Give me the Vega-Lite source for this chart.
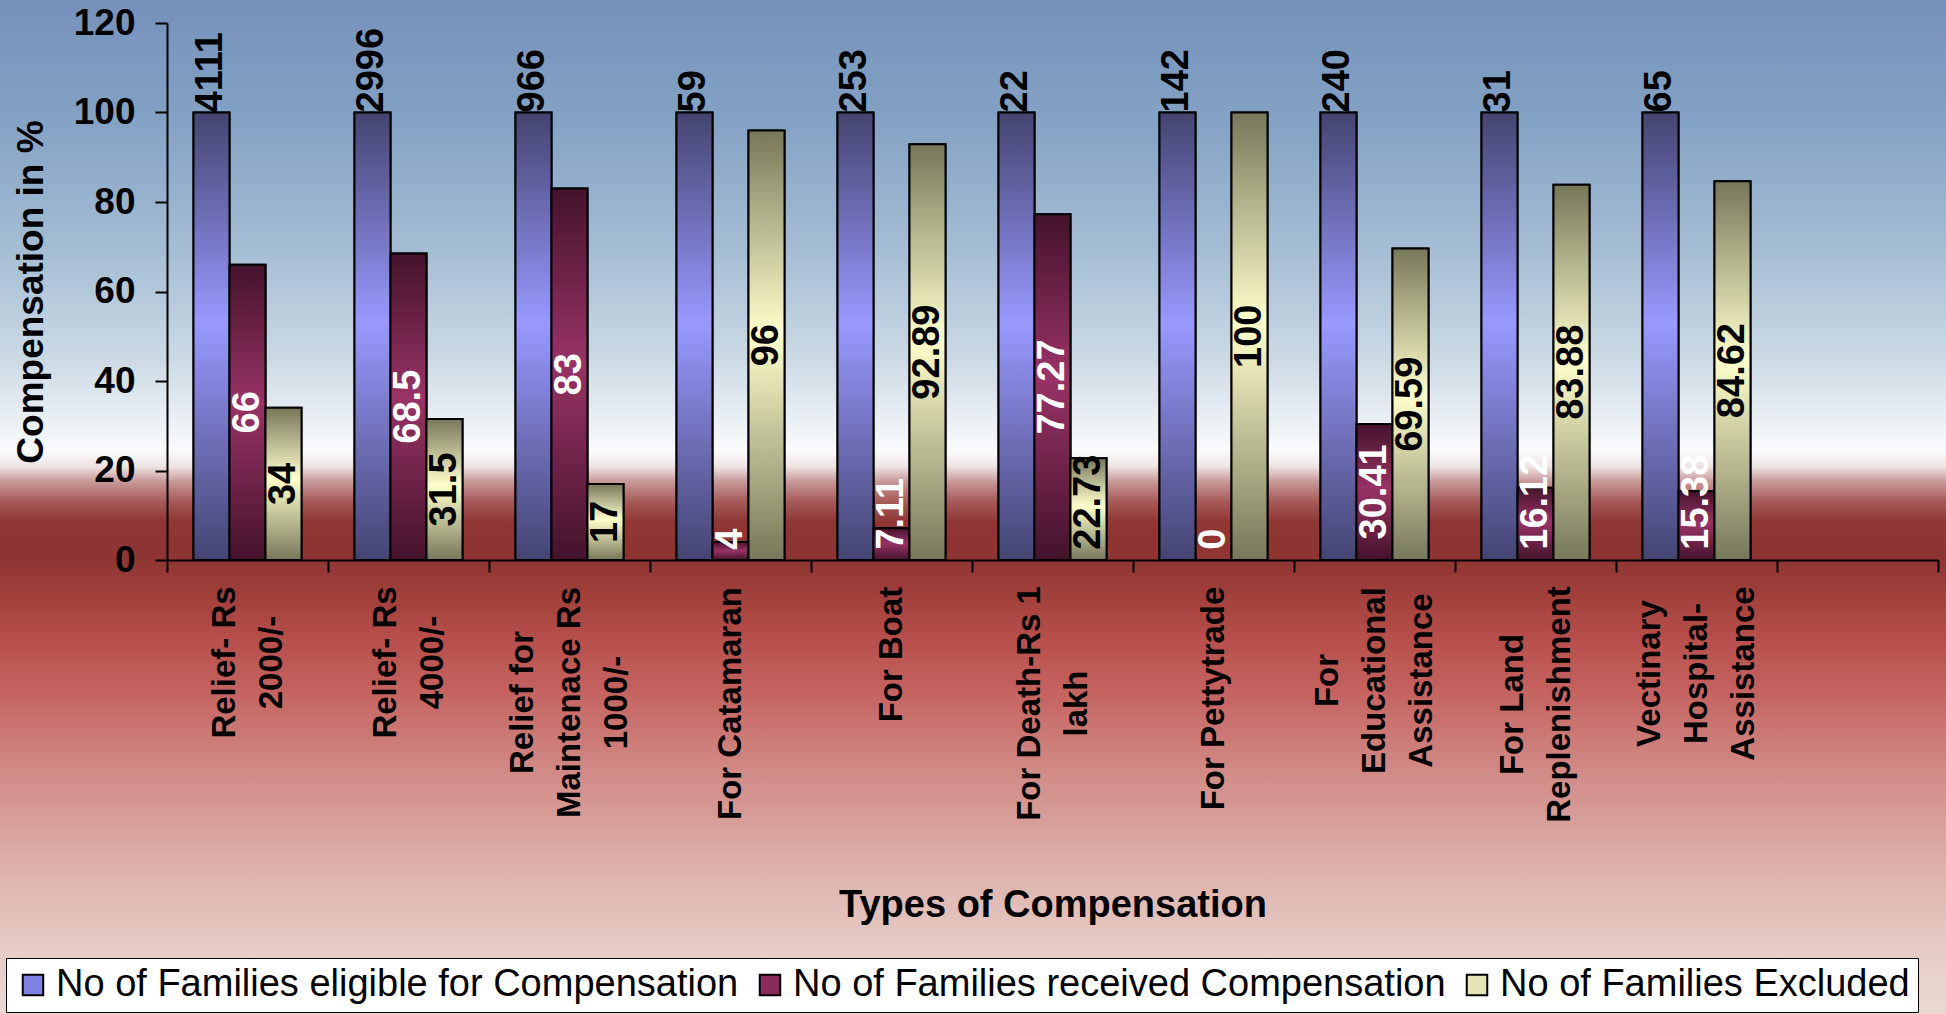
{
  "$schema": "https://vega.github.io/schema/vega-lite/v6.json",
  "width": 1946,
  "height": 1014,
  "autosize": {"type": "none"},
  "padding": 0,
  "background": "#eadad2",
  "config": {
    "font": "Liberation Sans",
    "view": {
      "stroke": null,
      "fill": {
        "gradient": "linear", "x1": 0, "y1": 0, "x2": 0, "y2": 1,
        "stops": [
          {"offset": 0, "color": "#7591bb"},
          {"offset": 0.12, "color": "#84a2c4"},
          {"offset": 0.25, "color": "#a6bed4"},
          {"offset": 0.35, "color": "#cad8e4"},
          {"offset": 0.41, "color": "#e8eef3"},
          {"offset": 0.445, "color": "#fafbfc"},
          {"offset": 0.46, "color": "#efe4e4"},
          {"offset": 0.475, "color": "#c89898"},
          {"offset": 0.495, "color": "#a55a58"},
          {"offset": 0.515, "color": "#8f3634"},
          {"offset": 0.55, "color": "#8e3533"},
          {"offset": 0.6, "color": "#a8443f"},
          {"offset": 0.63, "color": "#b74f4c"},
          {"offset": 0.68, "color": "#c4625f"},
          {"offset": 0.76, "color": "#d18a86"},
          {"offset": 0.86, "color": "#deb2ac"},
          {"offset": 0.94, "color": "#e6cdc6"},
          {"offset": 1, "color": "#eadad2"}
        ]
      }
    },
    "axisY": {
      "offset": -167,
      "titleFontSize": 37,
      "titleFontWeight": "bold",
      "titleColor": "black",
      "titleX": -136,
      "titleBaseline": "middle",
      "labelFontSize": 37,
      "labelFontWeight": "bold",
      "labelColor": "black",
      "labelPadding": 20,
      "tickSize": 12,
      "tickWidth": 2,
      "tickColor": "black",
      "domainColor": "black",
      "domainWidth": 2,
      "grid": false
    }
  },
  "data": {
    "values": [
      {"cat": "Relief- Rs|2000/-", "series": "No of Families eligible for Compensation", "value": 100, "label": "4111"},
      {"cat": "Relief- Rs|2000/-", "series": "No of Families received Compensation", "value": 66, "label": "66"},
      {"cat": "Relief- Rs|2000/-", "series": "No of Families Excluded", "value": 34, "label": "34"},
      {"cat": "Relief- Rs|4000/-", "series": "No of Families eligible for Compensation", "value": 100, "label": "2996"},
      {"cat": "Relief- Rs|4000/-", "series": "No of Families received Compensation", "value": 68.5, "label": "68.5"},
      {"cat": "Relief- Rs|4000/-", "series": "No of Families Excluded", "value": 31.5, "label": "31.5"},
      {"cat": "Relief for|Maintenace Rs|1000/-", "series": "No of Families eligible for Compensation", "value": 100, "label": "966"},
      {"cat": "Relief for|Maintenace Rs|1000/-", "series": "No of Families received Compensation", "value": 83, "label": "83"},
      {"cat": "Relief for|Maintenace Rs|1000/-", "series": "No of Families Excluded", "value": 17, "label": "17"},
      {"cat": "For Catamaran", "series": "No of Families eligible for Compensation", "value": 100, "label": "59"},
      {"cat": "For Catamaran", "series": "No of Families received Compensation", "value": 4, "label": "4"},
      {"cat": "For Catamaran", "series": "No of Families Excluded", "value": 96, "label": "96"},
      {"cat": "For Boat", "series": "No of Families eligible for Compensation", "value": 100, "label": "253"},
      {"cat": "For Boat", "series": "No of Families received Compensation", "value": 7.11, "label": "7.11"},
      {"cat": "For Boat", "series": "No of Families Excluded", "value": 92.89, "label": "92.89"},
      {"cat": "For Death-Rs 1|lakh", "series": "No of Families eligible for Compensation", "value": 100, "label": "22"},
      {"cat": "For Death-Rs 1|lakh", "series": "No of Families received Compensation", "value": 77.27, "label": "77.27"},
      {"cat": "For Death-Rs 1|lakh", "series": "No of Families Excluded", "value": 22.73, "label": "22.73"},
      {"cat": "For Pettytrade", "series": "No of Families eligible for Compensation", "value": 100, "label": "142"},
      {"cat": "For Pettytrade", "series": "No of Families received Compensation", "value": 0, "label": "0"},
      {"cat": "For Pettytrade", "series": "No of Families Excluded", "value": 100, "label": "100"},
      {"cat": "For|Educational|Assistance", "series": "No of Families eligible for Compensation", "value": 100, "label": "240"},
      {"cat": "For|Educational|Assistance", "series": "No of Families received Compensation", "value": 30.41, "label": "30.41"},
      {"cat": "For|Educational|Assistance", "series": "No of Families Excluded", "value": 69.59, "label": "69.59"},
      {"cat": "For Land|Replenishment", "series": "No of Families eligible for Compensation", "value": 100, "label": "31"},
      {"cat": "For Land|Replenishment", "series": "No of Families received Compensation", "value": 16.12, "label": "16.12"},
      {"cat": "For Land|Replenishment", "series": "No of Families Excluded", "value": 83.88, "label": "83.88"},
      {"cat": "Vectinary|Hospital-|Assistance", "series": "No of Families eligible for Compensation", "value": 100, "label": "65"},
      {"cat": "Vectinary|Hospital-|Assistance", "series": "No of Families received Compensation", "value": 15.38, "label": "15.38"},
      {"cat": "Vectinary|Hospital-|Assistance", "series": "No of Families Excluded", "value": 84.62, "label": "84.62"}
    ]
  },
  "transform": [
    {"calculate": "datum.series === 'No of Families eligible for Compensation' ? datum.value : max(datum.value / 2 - (length(datum.label) - (indexof(datum.label, '.') >= 0 ? 0.5 : 0)) * 21.1 / 2 / 4.475, 2.3)", "as": "lblpos"}
  ],
  "encoding": {
    "x": {
      "field": "cat", "type": "nominal", "sort": null,
      "scale": {
        "domain": [
          "Relief- Rs|2000/-",
          "Relief- Rs|4000/-",
          "Relief for|Maintenace Rs|1000/-",
          "For Catamaran",
          "For Boat",
          "For Death-Rs 1|lakh",
          "For Pettytrade",
          "For|Educational|Assistance",
          "For Land|Replenishment",
          "Vectinary|Hospital-|Assistance",
          ""
        ],
        "range": [167, 1938],
        "paddingInner": 0,
        "paddingOuter": 0
      },
      "axis": {
        "title": "Types of Compensation",
        "titleFontSize": 38,
        "titleFontWeight": "bold",
        "titleColor": "black",
        "titleY": 345,
        "titleBaseline": "middle",
        "offset": -454,
        "labelAngle": 270,
        "labelAlign": "center",
        "labelBaseline": "middle",
        "labelFontSize": 33,
        "labelFontWeight": "bold",
        "labelColor": "black",
        "labelLineHeight": 47,
        "labelExpr": "isString(datum.value) && length(datum.value) > 0 ? split(datum.value, '|') : ''",
        "labelPadding": {
          "condition": [
            {"test": "datum.value === 'Relief- Rs|2000/-' || datum.value === 'Relief- Rs|4000/-'", "value": 90},
            {"test": "datum.value === 'Relief for|Maintenace Rs|1000/-'", "value": 130},
            {"test": "datum.value === 'For Catamaran'", "value": 131},
            {"test": "datum.value === 'For Boat'", "value": 82},
            {"test": "datum.value === 'For Death-Rs 1|lakh'", "value": 131},
            {"test": "datum.value === 'For Pettytrade'", "value": 126},
            {"test": "datum.value === 'For|Educational|Assistance'", "value": 108},
            {"test": "datum.value === 'For Land|Replenishment'", "value": 132},
            {"test": "datum.value === 'Vectinary|Hospital-|Assistance'", "value": 101}
          ],
          "value": 14
        },
        "labelOffset": {
          "condition": [
            {"test": "isString(datum.value) && length(split(datum.value, '|')) === 3", "value": -47},
            {"test": "isString(datum.value) && length(split(datum.value, '|')) === 2", "value": -23.5}
          ],
          "value": 0
        },
        "labelLimit": 0,
        "labelOverlap": false,
        "tickSize": 12,
        "tickWidth": 2,
        "tickColor": "black",
        "tickBand": "extent",
        "domainColor": "black",
        "domainWidth": 2,
        "grid": false
      }
    },
    "xOffset": {
      "field": "series", "type": "nominal",
      "sort": ["No of Families eligible for Compensation", "No of Families received Compensation", "No of Families Excluded"],
      "scale": {"paddingOuter": 0.736, "paddingInner": 0}
    },
    "y": {
      "field": "value", "type": "quantitative",
      "scale": {"domain": [0, 120], "range": [560, 23], "nice": false},
      "axis": {"title": "Compensation in %", "values": [0, 20, 40, 60, 80, 100, 120]}
    }
  },
  "layer": [
    {
      "mark": {"type": "bar", "stroke": "black", "strokeWidth": 2},
      "encoding": {
        "color": {
          "field": "series", "type": "nominal",
          "sort": ["No of Families eligible for Compensation", "No of Families received Compensation", "No of Families Excluded"],
          "scale": {
            "domain": ["No of Families eligible for Compensation", "No of Families received Compensation", "No of Families Excluded"],
            "range": ["#8080e0", "#8a2c5a", "#e4e4b4"]
          },
          "legend": {
            "orient": "none",
            "legendX": 6,
            "legendY": 958,
            "direction": "horizontal",
            "columns": 3,
            "title": null,
            "labelFontSize": 38,
            "labelColor": "black",
            "labelLimit": 0,
            "symbolType": "square",
            "symbolSize": 420,
            "symbolStrokeColor": "black",
            "symbolStrokeWidth": 2,
            "symbolOpacity": 1,
            "fillColor": "white",
            "strokeColor": "black",
            "padding": 8,
            "columnPadding": 12,
            "labelOffset": 4,
            "encode": {
              "symbols": {
                "update": {
                  "stroke": {"value": "black"},
                  "strokeWidth": {"value": 2},
                  "fill": {"signal": "datum.value === 'No of Families eligible for Compensation' ? {gradient: 'linear', x1: 0, y1: 0, x2: 0, y2: 1, stops: [{offset: 0, color: '#444470'}, {offset: 0.5, color: '#9999ff'}, {offset: 1, color: '#ffffff'}]} : datum.value === 'No of Families received Compensation' ? {gradient: 'linear', x1: 0, y1: 0, x2: 0, y2: 1, stops: [{offset: 0, color: '#44132b'}, {offset: 0.5, color: '#993366'}, {offset: 1, color: '#ffffff'}]} : {gradient: 'linear', x1: 0, y1: 0, x2: 0, y2: 1, stops: [{offset: 0, color: '#77775a'}, {offset: 0.5, color: '#ffffcc'}, {offset: 1, color: '#ffffff'}]}"}
                }
              }
            }
          }
        }
      }
    },
    {
      "mark": {"type": "bar", "stroke": "black", "strokeWidth": 2},
      "encoding": {
        "fill": {
          "condition": [
            {"test": "datum.series === 'No of Families eligible for Compensation'", "value": {"gradient": "linear", "x1": 0, "y1": 0, "x2": 0, "y2": 1, "stops": [{"offset": 0, "color": "#444470"}, {"offset": 0.47, "color": "#9999ff"}, {"offset": 1, "color": "#444472"}]}},
            {"test": "datum.series === 'No of Families received Compensation'", "value": {"gradient": "linear", "x1": 0, "y1": 0, "x2": 0, "y2": 1, "stops": [{"offset": 0, "color": "#44132b"}, {"offset": 0.47, "color": "#993366"}, {"offset": 1, "color": "#44132b"}]}}
          ],
          "value": {"gradient": "linear", "x1": 0, "y1": 0, "x2": 0, "y2": 1, "stops": [{"offset": 0, "color": "#77775a"}, {"offset": 0.47, "color": "#ffffcc"}, {"offset": 1, "color": "#77775a"}]}
        }
      }
    },
    {
      "mark": {"type": "text", "angle": 270, "align": "left", "baseline": "middle", "fontSize": 38, "fontWeight": "bold"},
      "encoding": {
        "y": {
          "field": "lblpos", "type": "quantitative",
          "scale": {"domain": [0, 120], "range": [560, 23], "nice": false},
          "axis": {"title": "Compensation in %", "values": [0, 20, 40, 60, 80, 100, 120]}
        },
        "text": {"field": "label"},
        "color": {"condition": {"test": "datum.series === 'No of Families received Compensation'", "value": "white"}, "value": "black"}
      }
    }
  ]
}
